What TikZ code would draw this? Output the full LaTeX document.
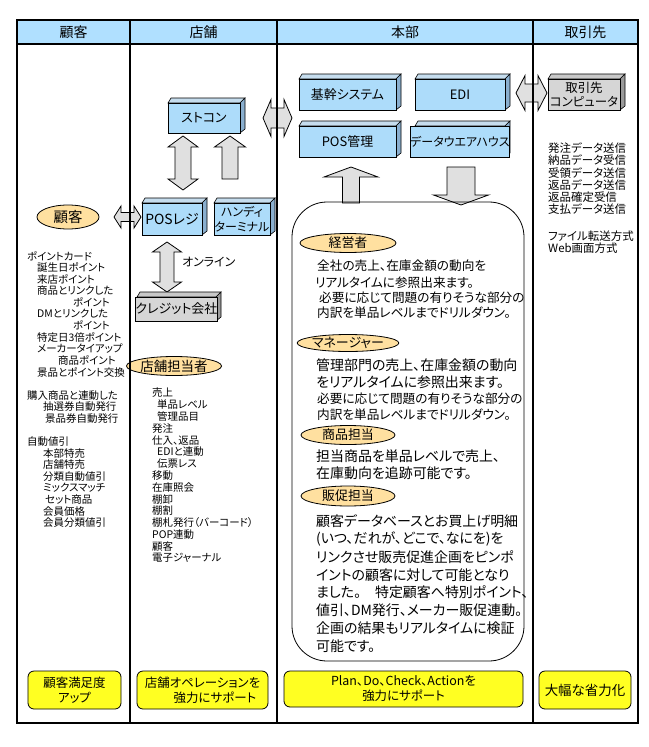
\documentclass[tikz,border=0pt]{standalone}
\usepackage{fontspec}
\setmainfont{Noto Sans CJK JP}[RawFeature=+palt]
\usetikzlibrary{shapes.geometric}
\definecolor{hdrblue}{HTML}{B0E0FF}
\definecolor{bluefront}{HTML}{ADDCFA}
\definecolor{bluetop}{HTML}{C6DDEE}
\definecolor{blueside}{HTML}{8AAFCF}
\definecolor{grayfront}{HTML}{D6D6D6}
\definecolor{graytop}{HTML}{C8C8C8}
\definecolor{grayside}{HTML}{9A9A9A}
\definecolor{arrowgray}{HTML}{E0E0E0}
\definecolor{ellfill}{HTML}{FFE0A0}
\definecolor{yel}{HTML}{FFFF22}
\newcommand\fs[1]{\fontsize{#1}{#1}\selectfont}
% name x1 y1 x2 y2 kind fontsize text
\newcommand\cubebox[8]{%
  \filldraw[fill=#6top,line width=0.6bp] (#2,#3) -- ({#2+3},{#3-5}) -- ({#4+5},{#3-5}) -- (#4,#3) -- cycle;
  \filldraw[fill=#6side,line width=0.6bp] (#4,#3) -- ({#4+5},{#3-5}) -- ({#4+5},{#5-4}) -- (#4,#5) -- cycle;
  \node[draw,fill=#6front,line width=0.9bp,minimum width={(#4-#2)*1bp},minimum height={(#5-#3)*1bp},align=center,font=\fontsize{#7}{14.5}\selectfont] (#1) at ({(#2+#4)/2},{(#3+#5)/2}) {#8};}
\newcommand\vdarrow[6]{% cx ytop ybot headhalf shafthalf headlen
  \filldraw[fill=arrowgray,line width=0.8bp] (#1,#2) -- ({#1+#4},{#2+#6}) -- ({#1+#5},{#2+#6}) -- ({#1+#5},{#3-#6}) -- ({#1+#4},{#3-#6}) -- (#1,#3) -- ({#1-#4},{#3-#6}) -- ({#1-#5},{#3-#6}) -- ({#1-#5},{#2+#6}) -- ({#1-#4},{#2+#6}) -- cycle;}
\newcommand\hdarrow[6]{% cy xl xr headhalf shafthalf headlen
  \filldraw[fill=arrowgray,line width=0.8bp] (#2,#1) -- ({#2+#6},{#1-#4}) -- ({#2+#6},{#1-#5}) -- ({#3-#6},{#1-#5}) -- ({#3-#6},{#1-#4}) -- (#3,#1) -- ({#3-#6},{#1+#4}) -- ({#3-#6},{#1+#5}) -- ({#2+#6},{#1+#5}) -- ({#2+#6},{#1+#4}) -- cycle;}
\newcommand\uparr[6]{% cx ytip ybot headhalf shafthalf headlen
  \filldraw[fill=arrowgray,line width=0.8bp] (#1,#2) -- ({#1+#4},{#2+#6}) -- ({#1+#5},{#2+#6}) -- ({#1+#5},#3) -- ({#1-#5},#3) -- ({#1-#5},{#2+#6}) -- ({#1-#4},{#2+#6}) -- cycle;}
\newcommand\downarr[6]{% cx ytop ytip headhalf shafthalf headlen
  \filldraw[fill=arrowgray,line width=0.8bp] ({#1-#5},#2) -- ({#1+#5},#2) -- ({#1+#5},{#3-#6}) -- ({#1+#4},{#3-#6}) -- (#1,#3) -- ({#1-#4},{#3-#6}) -- ({#1-#5},{#3-#6}) -- cycle;}
\begin{document}
\begin{tikzpicture}[x=1bp,y=-1bp,
  every node/.style={inner sep=0pt},
  lstA/.style={anchor=west,font=\fs{10.5}},
  lstD/.style={anchor=west,font=\fs{11.5}},
  hqA/.style={anchor=west,font=\fs{12.7}},
  hqB/.style={anchor=west,font=\fs{14}},
  role/.style={ellipse,draw,fill=ellfill,line width=0.8bp,inner sep=0pt},
  hdr/.style={font=\fs{14}},
  goal/.style={draw,fill=yel,rounded corners=6bp,line width=0.8bp,align=center,font=\fontsize{12.5}{15}\selectfont}]
\useasboundingbox (0,0) rectangle (649,747);
% header
\fill[hdrblue] (17,20) rectangle (638,44);
\node[hdr] (h1) at (73.5,32) {顧客};
\node[hdr] (h2) at (203.5,32) {店舗};
\node[hdr] (h3) at (405,32) {本部};
\node[hdr] (h4) at (585.5,32) {取引先};

% column 1
\node[role,minimum width=62bp,minimum height=24bp,font=\fs{14.5}] (cust) at (68,217) {顧客};
\foreach \k/\xx/\tt [count=\i] in {0/27/ポイントカード,1/37/誕生日ポイント,2/37/来店ポイント,3/37/商品とリンクした,4/73/ポイント,5/37/DMとリンクした,6/73/ポイント,7/37/特定日3倍ポイント,8/37/メーカータイアップ,9/58/商品ポイント,10/37/景品とポイント交換,12/27/購入商品と連動した,13/43/抽選券自動発行,14/45/景品券自動発行,16/27/自動値引,17/43/本部特売,18/43/店舗特売,19/43/分類自動値引,20/43/ミックスマッチ,21/45/セット商品,22/43/会員価格,23/43/会員分類値引}
  \node[lstA] (ca\i) at (\xx,{256+11.6*\k}) {\tt};

% column 1 <-> 2 arrow
\hdarrow{217}{114}{141}{11}{4.5}{7}

% column 2
\cubebox{stocon}{168}{103}{240}{133}{blue}{13}{ストコン}
\vdarrow{183}{136}{190}{15}{8}{11}
\uparr{230}{136}{179}{15.5}{8}{11}
\cubebox{pos}{142}{203}{202}{235}{blue}{14}{POSレジ}
\cubebox{handy}{214}{203}{270}{235}{blue}{12}{ハンディ\\ターミナル}
\vdarrow{167}{242}{292}{14.5}{7}{10}
\node[anchor=west,font=\fs{12}] (online) at (182,262) {オンライン};
\cubebox{credit}{137}{297}{216}{321}{gray}{13}{クレジット会社}
\node[role,minimum width=78bp,minimum height=19bp,font=\fs{13.5}] (storep) at (174,366) {店舗担当者};
\foreach \k/\xx/\tt [count=\i] in {0/152/売上,1/157/単品レベル,2/157/管理品目,3/152/発注,4/152/仕入、返品,5/157/EDIと連動,6/157/伝票レス,7/152/移動,8/152/在庫照会,9/152/棚卸,10/152/棚割,11/152/棚札発行（バーコード）,12/152/POP連動,13/152/顧客,14/152/電子ジャーナル}
  \node[lstA] (cb\i) at (\xx,{393+11.8*\k}) {\tt};

% column 2 <-> 3 arrow
\hdarrow{118}{263}{292}{18.5}{10}{8}

% column 3
\cubebox{kikan}{299}{79}{396}{110}{blue}{13}{基幹システム}
\cubebox{edi}{415}{79}{505}{110}{blue}{13}{EDI}
\cubebox{posm}{299}{126}{396}{157}{blue}{13}{POS管理}
\cubebox{dwh}{415}{126}{505}{157}{blue}{12}{データウエアハウス}
\hdarrow{93}{516}{547}{17.5}{9}{9}
\uparr{351}{167}{203}{27}{8.5}{10}
\downarr{461}{167}{205}{27.5}{14}{10}
\node[draw,line width=0.8bp,rounded corners=35bp,minimum width=232bp,minimum height=459bp] (hq) at (408,431.5) {};
\node[role,minimum width=96bp,minimum height=19bp,font=\fs{13}] (r1) at (348,243) {経営者};
\node[hqA] (t11) at (317,265.5) {全社の売上、在庫金額の動向を};
\node[hqA] (t12) at (315,282.5) {リアルタイムに参照出来ます。};
\node[hqA] (t13) at (319,298) {必要に応じて問題の有りそうな部分の};
\node[hqA] (t14) at (317,312.5) {内訳を単品レベルまでドリルダウン。};
\node[role,minimum width=96bp,minimum height=17bp,font=\fs{13}] (r2) at (348,343) {マネージャー};
\node[hqB] (t21) at (316,365.5) {管理部門の売上、在庫金額の動向};
\node[hqB] (t22) at (316,382.5) {をリアルタイムに参照出来ます。};
\node[hqA] (t23) at (317,399) {必要に応じて問題の有りそうな部分の};
\node[hqA] (t24) at (317,415) {内訳を単品レベルまでドリルダウン。};
\node[role,minimum width=94bp,minimum height=19bp,font=\fs{13}] (r3) at (348,435) {商品担当};
\node[hqB] (t31) at (316,456) {担当商品を単品レベルで売上、};
\node[hqB] (t32) at (316,473) {在庫動向を追跡可能です。};
\node[role,minimum width=94bp,minimum height=20bp,font=\fs{13}] (r4) at (348,496) {販促担当};
\foreach \k/\tt [count=\i] in {0/顧客データベースとお買上げ明細,1/{(いつ、だれが、どこで、なにを)を},2/リンクさせ販売促進企画をピンポ,3/イントの顧客に対して可能となり,4/ました。　特定顧客へ特別ポイント、,5/値引、DM発行、メーカー販促連動。,6/企画の結果もリアルタイムに検証,7/可能です。}
  \node[hqB] (t4\i) at (316,{521.3+17.8*\k}) {\tt};

% column 4
\cubebox{partner}{548}{79}{620}{110}{gray}{12.5}{取引先\\コンピュータ}
\foreach \yy/\tt [count=\i] in {148/発注データ送信,160.3/納品データ受信,172.6/受領データ送信,184.9/返品データ送信,197.2/返品確定受信,209.5/支払データ送信,236/ファイル転送方式,248.5/Web画面方式}
  \node[lstD] (cd\i) at (548,\yy) {\tt};

% goals
\node[goal,minimum width=93bp,minimum height=38bp] (g1) at (74.5,690) {顧客満足度\\アップ};
\node[goal,minimum width=131bp,minimum height=38bp] (g2) at (202.5,690) {店舗オペレーションを\\\hspace{2em}強力にサポート};
\node[goal,minimum width=239bp,minimum height=36bp] (g3) at (403.5,689) {Plan、Do、Check、Actionを\\強力にサポート};
\node[goal,minimum width=92bp,minimum height=38bp,font=\fs{13.5}] (g4) at (585,690) {大幅な省力化};

% table grid on top
\draw[line width=1.1bp] (17,20) rectangle (638,723);
\draw[line width=1.1bp] (17,44) -- (638,44);
\foreach \xx [count=\i] in {130,277,533} \draw[line width=1.1bp] (\xx,20) -- (\xx,723);
\end{tikzpicture}
\end{document}
